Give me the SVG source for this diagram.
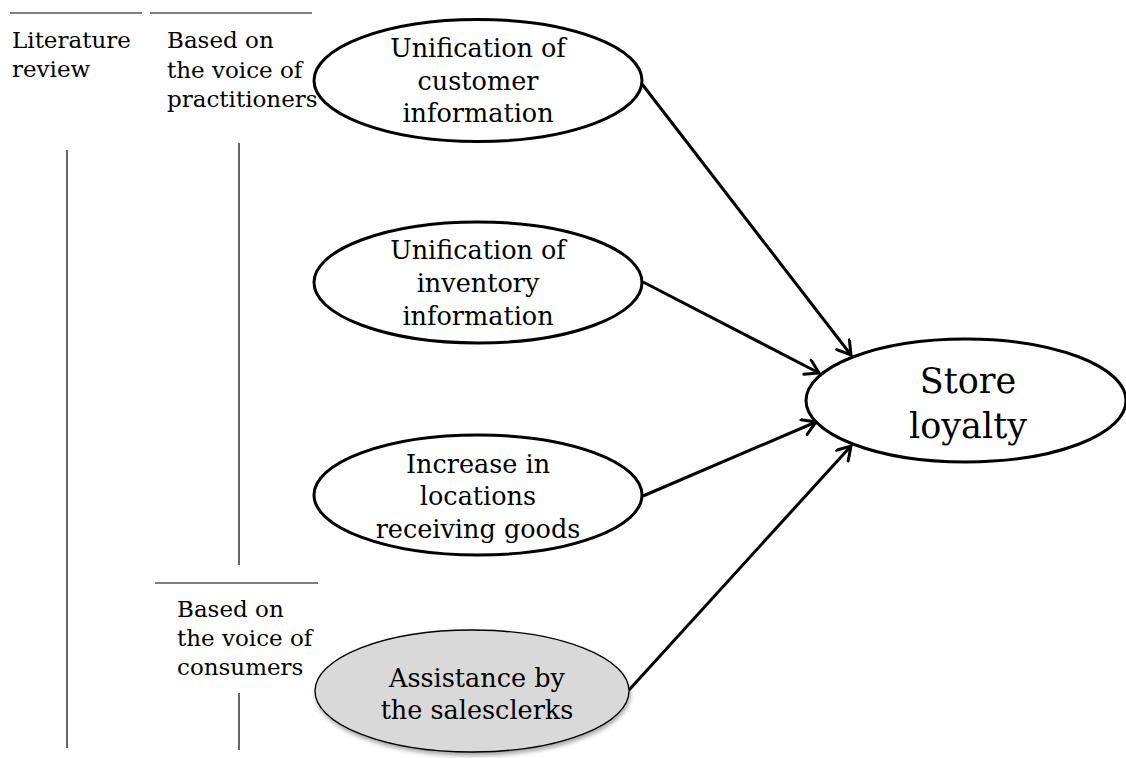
<svg xmlns="http://www.w3.org/2000/svg" width="1126" height="758" viewBox="0 0 1126 758">
  <style>
    .rule { stroke: #000; stroke-width: 1.2; fill: none; }
    .label { font-family: "DejaVu Serif", "Liberation Serif", serif; font-size: 23px; fill: #000; }
    .node { fill: #fff; stroke: #000; stroke-width: 3; }
    .node-soft { fill: #d9d9d9; stroke: #000; stroke-width: 1.3; }
    .ntext { font-family: "DejaVu Serif", "Liberation Serif", serif; font-size: 25.5px; fill: #000; text-anchor: middle; }
    .big { font-family: "DejaVu Serif", "Liberation Serif", serif; font-size: 35px; fill: #000; text-anchor: middle; }
    .edge { stroke: #000; stroke-width: 3; fill: none; marker-end: url(#arrow); }
  </style>
  <defs>
    <marker id="arrow" markerUnits="userSpaceOnUse" markerWidth="24" markerHeight="24" refX="15" refY="9" orient="auto">
      <path d="M2,1 L15,9 L2,17" fill="none" stroke="#000" stroke-width="3" stroke-linecap="round" stroke-linejoin="miter"/>
    </marker>
    <filter id="shadow" x="-10%" y="-10%" width="120%" height="130%">
      <feDropShadow dx="1" dy="3" stdDeviation="2" flood-color="#000" flood-opacity="0.35"/>
    </filter>
  </defs>

  <!-- column headings and rules -->
  <g id="columns">
    <line class="rule" x1="10" y1="13" x2="142" y2="13"/>
    <line class="rule" x1="150" y1="13" x2="312" y2="13"/>
    <text class="label" x="12" y="48">Literature</text>
    <text class="label" x="12" y="77">review</text>
    <text class="label" x="167" y="48">Based on</text>
    <text class="label" x="167" y="78">the voice of</text>
    <text class="label" x="167" y="107">practitioners</text>
    <line class="rule" x1="67" y1="150" x2="67" y2="748"/>
    <line class="rule" x1="239" y1="143" x2="239" y2="565"/>
    <line class="rule" x1="155" y1="583" x2="318" y2="583"/>
    <text class="label" x="177" y="617">Based on</text>
    <text class="label" x="177" y="646">the voice of</text>
    <text class="label" x="177" y="675">consumers</text>
    <line class="rule" x1="239" y1="693" x2="239" y2="750"/>
  </g>

  <!-- connectors -->
  <g id="connectors">
    <line class="edge" x1="642" y1="84" x2="851" y2="355"/>
    <line class="edge" x1="643" y1="282" x2="819" y2="373"/>
    <line class="edge" x1="643" y1="496" x2="816" y2="422"/>
    <line class="edge" x1="629" y1="690" x2="851" y2="446"/>
  </g>

  <g id="customer-info">
    <ellipse class="node" cx="478" cy="80.5" rx="164" ry="61"/>
    <text class="ntext" x="478" y="57">Unification of</text>
    <text class="ntext" x="478" y="90">customer</text>
    <text class="ntext" x="478" y="122">information</text>
  </g>

  <g id="inventory-info">
    <ellipse class="node" cx="478" cy="282.5" rx="164" ry="60.5"/>
    <text class="ntext" x="478" y="259">Unification of</text>
    <text class="ntext" x="478" y="292">inventory</text>
    <text class="ntext" x="478" y="325">information</text>
  </g>

  <g id="receiving-locations">
    <ellipse class="node" cx="478" cy="495" rx="164" ry="60"/>
    <text class="ntext" x="478" y="473">Increase in</text>
    <text class="ntext" x="478" y="505">locations</text>
    <text class="ntext" x="478" y="538">receiving goods</text>
  </g>

  <g id="salesclerk-assistance">
    <ellipse class="node-soft" cx="472" cy="691" rx="157" ry="61" filter="url(#shadow)"/>
    <text class="ntext" x="477" y="687">Assistance by</text>
    <text class="ntext" x="477" y="719">the salesclerks</text>
  </g>

  <g id="store-loyalty">
    <ellipse class="node" cx="966" cy="400.5" rx="160" ry="61.5"/>
    <text class="big" x="968" y="393">Store</text>
    <text class="big" x="968" y="438">loyalty</text>
  </g>
</svg>
